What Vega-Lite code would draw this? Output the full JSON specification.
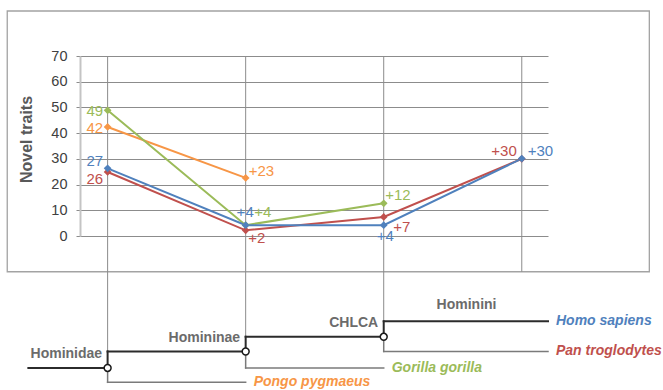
{
  "$schema": "https://vega.github.io/schema/vega-lite/v6.json",
  "width": 468,
  "height": 180,
  "autosize": {"type": "none"},
  "padding": {"left": 80, "top": 56, "right": 115, "bottom": 154},
  "background": "white",
  "config": {
    "view": {"stroke": null},
    "font": "Liberation Sans",
    "text": {"font": "Liberation Sans"},
    "axisY": {
      "tickCount": 8,
      "grid": true, "gridColor": "#8c8c8c", "gridWidth": 1,
      "domainColor": "#c4c4c4", "domainWidth": 2,
      "tickColor": "#8c8c8c", "tickSize": 4,
      "labelFont": "Liberation Sans", "labelFontSize": 14.5, "labelColor": "#404040", "labelPadding": 9, "labelOverlap": false,
      "titleFont": "Liberation Sans", "titleFontSize": 16, "titleFontWeight": "bold", "titleColor": "#595959",
      "titleAngle": -90, "titleX": -49, "titleY": 83, "titleAlign": "center", "titleBaseline": "alphabetic"
    }
  },
  "datasets": {
    "traits": [
      {"series": "Pongo pygmaeus", "node": 0, "value": 42.4, "label": "42"},
      {"series": "Pongo pygmaeus", "node": 1, "value": 22.6, "label": "+23"},
      {"series": "Gorilla gorilla", "node": 0, "value": 48.9, "label": "49"},
      {"series": "Gorilla gorilla", "node": 1, "value": 4.2, "label": "+4"},
      {"series": "Gorilla gorilla", "node": 2, "value": 12.7, "label": "+12"},
      {"series": "Pan troglodytes", "node": 0, "value": 24.9, "label": "26"},
      {"series": "Pan troglodytes", "node": 1, "value": 2.2, "label": "+2"},
      {"series": "Pan troglodytes", "node": 2, "value": 7.4, "label": "+7"},
      {"series": "Pan troglodytes", "node": 3, "value": 30, "label": "+30"},
      {"series": "Homo sapiens", "node": 0, "value": 26.3, "label": "27"},
      {"series": "Homo sapiens", "node": 1, "value": 4.2, "label": "+4"},
      {"series": "Homo sapiens", "node": 2, "value": 4.2, "label": "+4"},
      {"series": "Homo sapiens", "node": 3, "value": 30.1, "label": "+30"}
    ],
    "frame": [{"x": -0.727, "x2": 3.924, "y": 87.5, "y2": -13.9}],
    "guides": [
      {"node": 0, "top": 70, "bottom": -44.9},
      {"node": 1, "top": 70, "bottom": -39.2},
      {"node": 2, "top": 70, "bottom": -33.2},
      {"node": 3, "top": 70, "bottom": -13.9}
    ],
    "branches": [
      {"kind": "upper", "x": -0.574, "x2": 0, "y": -51.3, "y2": -51.3},
      {"kind": "upper", "x": 0, "x2": 0, "y": -51.3, "y2": -44.9},
      {"kind": "upper", "x": 0, "x2": 1, "y": -44.9, "y2": -44.9},
      {"kind": "upper", "x": 1, "x2": 1, "y": -44.9, "y2": -39.2},
      {"kind": "upper", "x": 1, "x2": 2, "y": -39.2, "y2": -39.2},
      {"kind": "upper", "x": 2, "x2": 2, "y": -39.2, "y2": -33.2},
      {"kind": "upper", "x": 2, "x2": 3.19, "y": -33.2, "y2": -33.2},
      {"kind": "lower", "x": 0, "x2": 0, "y": -51.3, "y2": -56.9},
      {"kind": "lower", "x": 0, "x2": 1, "y": -56.9, "y2": -56.9},
      {"kind": "lower", "x": 1, "x2": 1, "y": -44.9, "y2": -51.3},
      {"kind": "lower", "x": 1, "x2": 2, "y": -51.3, "y2": -51.3},
      {"kind": "lower", "x": 2, "x2": 2, "y": -39.2, "y2": -44.9},
      {"kind": "lower", "x": 2, "x2": 3.19, "y": -44.9, "y2": -44.9}
    ],
    "clades": [
      {"name": "Hominidae", "x": 0, "y": -51.3},
      {"name": "Homininae", "x": 1, "y": -44.9},
      {"name": "CHLCA", "x": 2, "y": -39.2}
    ],
    "tribe": [{"name": "Hominini", "x": 2.6, "y": -33.2}],
    "leaves": [
      {"name": "Homo sapiens", "x": 3.19, "y": -33.2},
      {"name": "Pan troglodytes", "x": 3.19, "y": -44.9},
      {"name": "Gorilla gorilla", "x": 2, "y": -51.3},
      {"name": "Pongo pygmaeus", "x": 1, "y": -56.9}
    ]
  },
  "layer": [
    {
      "data": {"name": "frame"},
      "mark": {"type": "rect", "fill": "white", "fillOpacity": 0, "stroke": "#a3a3a3", "strokeWidth": 1.3},
      "encoding": {
        "x": {"field": "x", "type": "quantitative", "scale": {"domain": [-0.2, 3.19], "nice": false, "zero": false}, "axis": null},
        "x2": {"field": "x2"},
        "y": {"field": "y", "type": "quantitative", "title": "Novel traits", "scale": {"domain": [0, 70], "nice": false}},
        "y2": {"field": "y2"}
      }
    },
    {
      "data": {"name": "guides"},
      "mark": {"type": "rule", "color": "#8c8c8c", "strokeWidth": 1},
      "encoding": {
        "x": {"field": "node", "type": "quantitative", "scale": {"domain": [-0.2, 3.19], "nice": false, "zero": false}, "axis": null},
        "y": {"field": "top", "type": "quantitative", "title": "Novel traits", "scale": {"domain": [0, 70], "nice": false}},
        "y2": {"field": "bottom"}
      }
    },
    {
      "data": {"name": "traits"},
      "encoding": {
        "x": {"field": "node", "type": "quantitative", "scale": {"domain": [-0.2, 3.19], "nice": false, "zero": false}, "axis": null},
        "y": {"field": "value", "type": "quantitative", "title": "Novel traits", "scale": {"domain": [0, 70], "nice": false}},
        "color": {
          "field": "series", "type": "nominal",
          "scale": {"domain": ["Homo sapiens", "Pan troglodytes", "Gorilla gorilla", "Pongo pygmaeus"], "range": ["#4F81BD", "#C0504D", "#9BBB59", "#F79646"]},
          "legend": null
        }
      },
      "layer": [
        {"mark": {"type": "line", "strokeWidth": 2}},
        {"mark": {"type": "point", "shape": "diamond", "filled": true, "size": 60, "opacity": 1}},
        {"transform": [{"filter": "datum.series == 'Gorilla gorilla' && datum.node == 0"}], "mark": {"type": "text", "align": "right", "baseline": "middle", "dx": -4.5, "dy": 1, "fontSize": 15}, "encoding": {"text": {"field": "label"}}},
        {"transform": [{"filter": "datum.series == 'Pongo pygmaeus' && datum.node == 0"}], "mark": {"type": "text", "align": "right", "baseline": "middle", "dx": -4.5, "dy": 1.5, "fontSize": 15}, "encoding": {"text": {"field": "label"}}},
        {"transform": [{"filter": "datum.series == 'Homo sapiens' && datum.node == 0"}], "mark": {"type": "text", "align": "right", "baseline": "middle", "dx": -4.5, "dy": -7, "fontSize": 15}, "encoding": {"text": {"field": "label"}}},
        {"transform": [{"filter": "datum.series == 'Pan troglodytes' && datum.node == 0"}], "mark": {"type": "text", "align": "right", "baseline": "middle", "dx": -4.5, "dy": 7.5, "fontSize": 15}, "encoding": {"text": {"field": "label"}}},
        {"transform": [{"filter": "datum.series == 'Pongo pygmaeus' && datum.node == 1"}], "mark": {"type": "text", "align": "left", "baseline": "middle", "dx": 3, "dy": -7, "fontSize": 15}, "encoding": {"text": {"field": "label"}}},
        {"transform": [{"filter": "datum.series == 'Homo sapiens' && datum.node == 1"}], "mark": {"type": "text", "align": "center", "baseline": "middle", "dx": -0.5, "dy": -13, "fontSize": 15}, "encoding": {"text": {"field": "label"}}},
        {"transform": [{"filter": "datum.series == 'Gorilla gorilla' && datum.node == 1"}], "mark": {"type": "text", "align": "left", "baseline": "middle", "dx": 8.5, "dy": -13, "fontSize": 15}, "encoding": {"text": {"field": "label"}}},
        {"transform": [{"filter": "datum.series == 'Pan troglodytes' && datum.node == 1"}], "mark": {"type": "text", "align": "left", "baseline": "middle", "dx": 2.5, "dy": 8, "fontSize": 15}, "encoding": {"text": {"field": "label"}}},
        {"transform": [{"filter": "datum.series == 'Gorilla gorilla' && datum.node == 2"}], "mark": {"type": "text", "align": "left", "baseline": "middle", "dx": 1.5, "dy": -8, "fontSize": 15}, "encoding": {"text": {"field": "label"}}},
        {"transform": [{"filter": "datum.series == 'Pan troglodytes' && datum.node == 2"}], "mark": {"type": "text", "align": "left", "baseline": "middle", "dx": 9.5, "dy": 10.5, "fontSize": 15}, "encoding": {"text": {"field": "label"}}},
        {"transform": [{"filter": "datum.series == 'Homo sapiens' && datum.node == 2"}], "mark": {"type": "text", "align": "center", "baseline": "middle", "dx": 1.5, "dy": 11, "fontSize": 15}, "encoding": {"text": {"field": "label"}}},
        {"transform": [{"filter": "datum.series == 'Pan troglodytes' && datum.node == 3"}], "mark": {"type": "text", "align": "right", "baseline": "middle", "dx": -5, "dy": -8, "fontSize": 15}, "encoding": {"text": {"field": "label"}}},
        {"transform": [{"filter": "datum.series == 'Homo sapiens' && datum.node == 3"}], "mark": {"type": "text", "align": "left", "baseline": "middle", "dx": 6, "dy": -8, "fontSize": 15}, "encoding": {"text": {"field": "label"}}}
      ]
    },
    {
      "data": {"name": "branches"},
      "transform": [{"filter": "datum.kind == 'lower'"}],
      "mark": {"type": "rule", "color": "#7a7a7a", "strokeWidth": 1.5, "strokeCap": "square"},
      "encoding": {
        "x": {"field": "x", "type": "quantitative", "scale": {"domain": [-0.2, 3.19], "nice": false, "zero": false}, "axis": null},
        "x2": {"field": "x2"},
        "y": {"field": "y", "type": "quantitative", "title": "Novel traits", "scale": {"domain": [0, 70], "nice": false}},
        "y2": {"field": "y2"}
      }
    },
    {
      "data": {"name": "branches"},
      "transform": [{"filter": "datum.kind == 'upper'"}],
      "mark": {"type": "rule", "color": "#2b2b2b", "strokeWidth": 2, "strokeCap": "square"},
      "encoding": {
        "x": {"field": "x", "type": "quantitative", "scale": {"domain": [-0.2, 3.19], "nice": false, "zero": false}, "axis": null},
        "x2": {"field": "x2"},
        "y": {"field": "y", "type": "quantitative", "title": "Novel traits", "scale": {"domain": [0, 70], "nice": false}},
        "y2": {"field": "y2"}
      }
    },
    {
      "data": {"name": "clades"},
      "mark": {"type": "point", "shape": "circle", "filled": true, "fill": "white", "stroke": "#1a1a1a", "strokeWidth": 1.5, "size": 48, "opacity": 1},
      "encoding": {
        "x": {"field": "x", "type": "quantitative", "scale": {"domain": [-0.2, 3.19], "nice": false, "zero": false}, "axis": null},
        "y": {"field": "y", "type": "quantitative", "title": "Novel traits", "scale": {"domain": [0, 70], "nice": false}}
      }
    },
    {
      "data": {"name": "clades"},
      "mark": {"type": "text", "align": "right", "baseline": "middle", "dx": -5.5, "dy": -13.5, "fontSize": 14, "fontWeight": "bold", "color": "#6b6b6b"},
      "encoding": {
        "x": {"field": "x", "type": "quantitative", "scale": {"domain": [-0.2, 3.19], "nice": false, "zero": false}, "axis": null},
        "y": {"field": "y", "type": "quantitative", "title": "Novel traits", "scale": {"domain": [0, 70], "nice": false}},
        "text": {"field": "name"}
      }
    },
    {
      "data": {"name": "tribe"},
      "mark": {"type": "text", "align": "center", "baseline": "middle", "dy": -16, "fontSize": 14, "fontWeight": "bold", "color": "#6b6b6b"},
      "encoding": {
        "x": {"field": "x", "type": "quantitative", "scale": {"domain": [-0.2, 3.19], "nice": false, "zero": false}, "axis": null},
        "y": {"field": "y", "type": "quantitative", "title": "Novel traits", "scale": {"domain": [0, 70], "nice": false}},
        "text": {"field": "name"}
      }
    },
    {
      "data": {"name": "leaves"},
      "mark": {"type": "text", "align": "left", "baseline": "middle", "dx": 8, "dy": 0, "fontSize": 14, "fontWeight": "bold", "fontStyle": "italic"},
      "encoding": {
        "x": {"field": "x", "type": "quantitative", "scale": {"domain": [-0.2, 3.19], "nice": false, "zero": false}, "axis": null},
        "y": {"field": "y", "type": "quantitative", "title": "Novel traits", "scale": {"domain": [0, 70], "nice": false}},
        "text": {"field": "name"},
        "color": {
          "field": "name", "type": "nominal",
          "scale": {"domain": ["Homo sapiens", "Pan troglodytes", "Gorilla gorilla", "Pongo pygmaeus"], "range": ["#4F81BD", "#C0504D", "#9BBB59", "#F79646"]},
          "legend": null
        }
      }
    }
  ]
}
